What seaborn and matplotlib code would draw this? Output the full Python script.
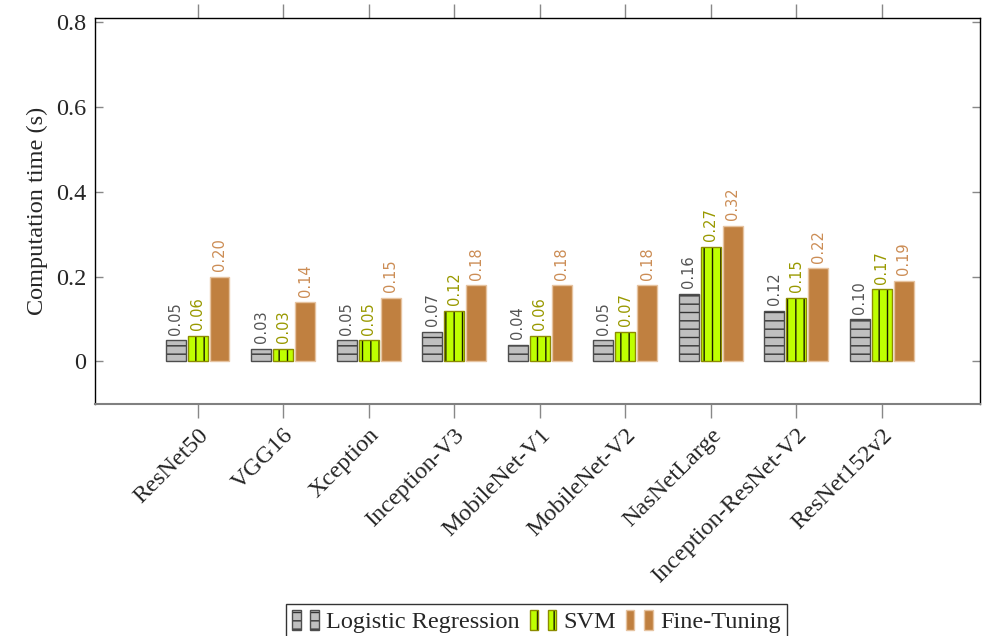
import pandas as pd
import seaborn as sns
import matplotlib.pyplot as plt
from matplotlib.patches import Patch
from matplotlib.legend_handler import HandlerTuple
from matplotlib.colors import to_rgba

MODELS = [
    "ResNet50",
    "VGG16",
    "Xception",
    "Inception-V3",
    "MobileNet-V1",
    "MobileNet-V2",
    "NasNetLarge",
    "Inception-ResNet-V2",
    "ResNet152v2",
]
METHODS = ["Logistic Regression", "SVM", "Fine-Tuning"]
LOGREG = [0.05, 0.03, 0.05, 0.07, 0.04, 0.05, 0.16, 0.12, 0.10]
SVM = [0.06, 0.03, 0.05, 0.12, 0.06, 0.07, 0.27, 0.15, 0.17]
FINETUNE = [0.20, 0.14, 0.15, 0.18, 0.18, 0.18, 0.32, 0.22, 0.19]
Y_TICKS = [0, 0.2, 0.4, 0.6, 0.8]
Y_TICK_LABELS = ["0", "0.2", "0.4", "0.6", "0.8"]

# fill, edge, hatch, hatch colour, label colour
STYLES = {
    "Logistic Regression": ("#bfbfbf", "#4d4d4d", "--", "#333333", "#555555"),
    "SVM": ("#bfff00", "#8c8c00", "||", "#1a1a00", "#999900"),
    "Fine-Tuning": ("#c08040", "#e6c3a0", "", "#c08040", "#cc8d55"),
}

SERIF = ["Liberation Serif", "DejaVu Serif"]
FS = 17.5


def build_frame():
    rows = []
    for method, values in zip(METHODS, [LOGREG, SVM, FINETUNE]):
        for model, v in zip(MODELS, values):
            rows.append({"model": model, "method": method, "time": v})
    return pd.DataFrame(rows)


def style_bar(patch, method):
    fill, edge, hatch, hcol, _ = STYLES[method]
    patch.set_facecolor(fill)
    patch.set_edgecolor(edge)
    patch.set_linewidth(1.0)
    patch.set_hatch(hatch)
    patch._hatch_color = to_rgba(hcol)


if __name__ == "__main__":
    sns.set_style("white")
    plt.rcParams["font.family"] = SERIF
    plt.rcParams["hatch.linewidth"] = 1.0

    df = build_frame()

    fig = plt.figure(figsize=(9.86, 6.36), dpi=100)
    ax = fig.add_axes([0.0963, 0.365, 0.8976, 0.6066])

    sns.barplot(
        data=df,
        x="model",
        y="time",
        hue="method",
        hue_order=METHODS,
        order=MODELS,
        width=0.77,
        gap=0.09,
        ax=ax,
        legend=False,
    )

    for container, method in zip(ax.containers, METHODS):
        for patch in container:
            style_bar(patch, method)
        ax.bar_label(
            container,
            fmt="%.2f",
            rotation=90,
            padding=4,
            color=STYLES[method][4],
            fontsize=10.5,
            family="DejaVu Sans",
        )

    ax.set_ylim(-0.1, 0.81)
    ax.set_xlim(-1.2, 9.15)
    ax.set_yticks(Y_TICKS)
    ax.set_yticklabels(Y_TICK_LABELS, fontsize=FS)
    ax.set_xticks(range(len(MODELS)))
    ax.set_xticklabels(MODELS, rotation=45, ha="right", rotation_mode="anchor", fontsize=FS)
    ax.set_xlabel("")
    ax.set_ylabel("Computation time (s)", fontsize=FS, labelpad=6)

    ax.tick_params(axis="x", direction="out", length=10, color="#888888", width=1,
                   top=True, bottom=True, pad=5)
    ax.tick_params(axis="y", direction="in", length=6, color="#888888", width=1,
                   left=True, right=True, pad=6)

    for side in ["left", "top", "right"]:
        ax.spines[side].set_color("black")
        ax.spines[side].set_linewidth(1.0)
    ax.spines["bottom"].set_color("#808080")
    ax.spines["bottom"].set_linewidth(1.5)

    handles = []
    for method in METHODS:
        pair = []
        for _ in range(2):
            p = Patch()
            style_bar(p, method)
            pair.append(p)
        handles.append(tuple(pair))

    fig.legend(
        handles,
        METHODS,
        handler_map={tuple: HandlerTuple(ndivide=None, pad=0.4)},
        loc="lower center",
        bbox_to_anchor=(0.544, -0.005),
        ncol=3,
        frameon=True,
        fancybox=False,
        edgecolor="black",
        fontsize=FS,
        handlelength=1.1,
        handleheight=0.9,
        handletextpad=0.3,
        columnspacing=0.4,
        borderpad=0.25,
        borderaxespad=0,
    )

    fig.savefig("out.png", dpi=100)
